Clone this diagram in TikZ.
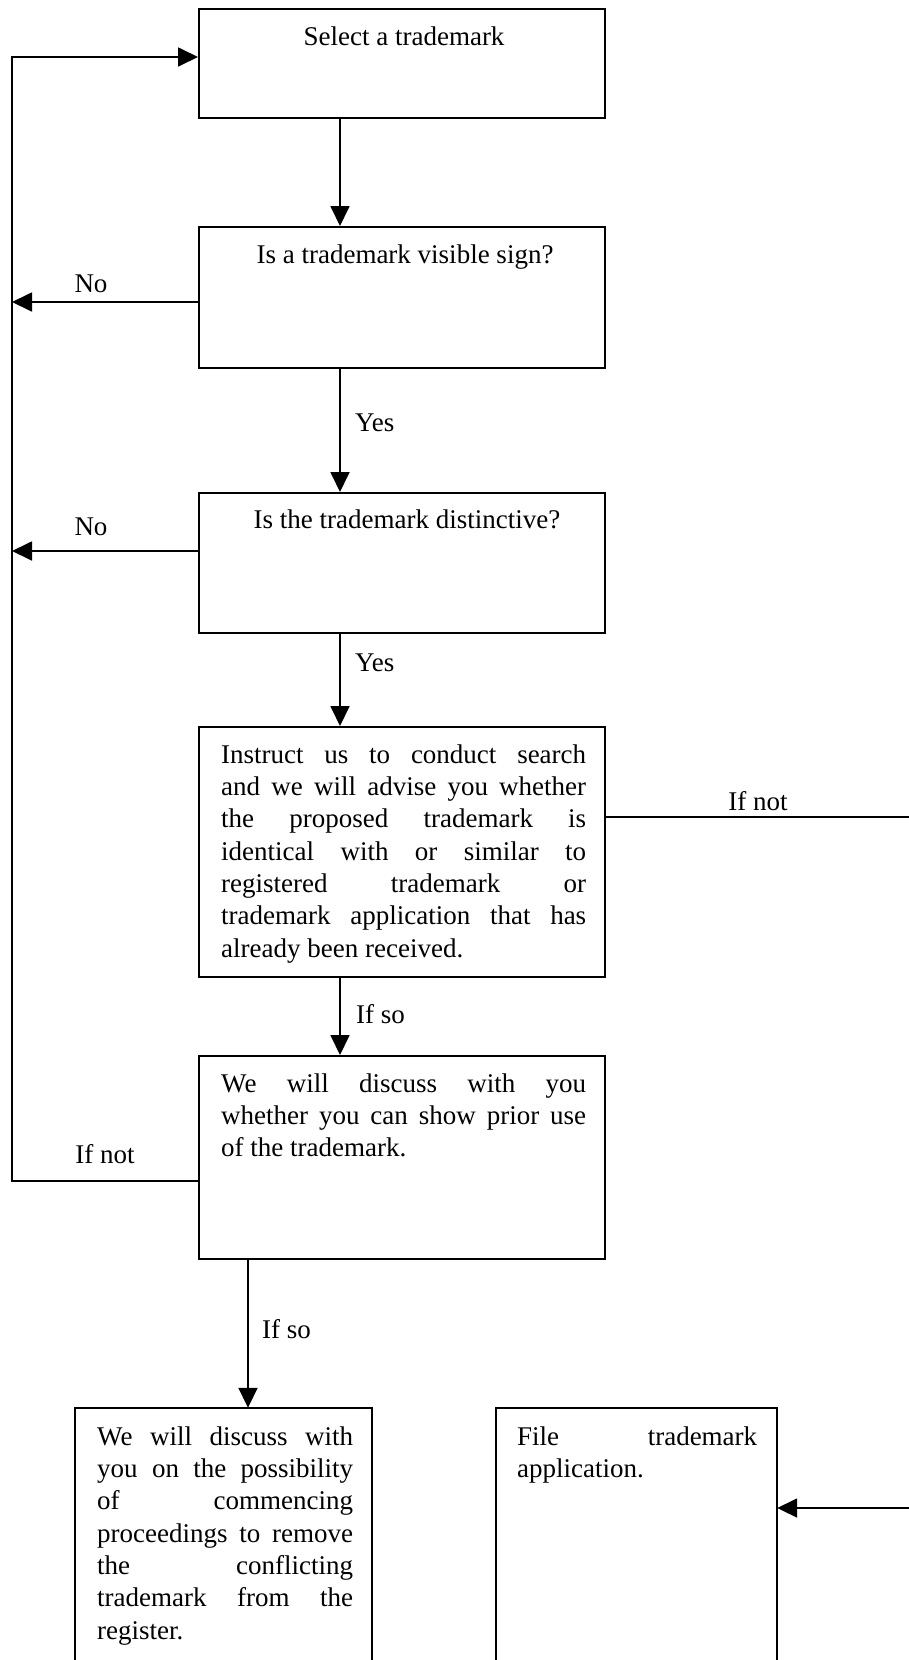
\documentclass[tikz,border=0pt]{standalone}
\usepackage{fontspec}
\setmainfont{Liberation Serif}
\usetikzlibrary{arrows.meta}
\newcommand{\firstln}{\rule{0pt}{20pt}}
\hbadness=10000
\begin{document}
\begin{tikzpicture}[x=1pt,y=-1pt,
  boxstyle/.style={draw=none, inner sep=0pt},
  boxline/.style={line width=2pt},
  conn/.style={line width=1.8pt},
  arr/.style={conn, -{Triangle[length=20pt,width=19pt]}},
  txt/.style={font=\fontsize{27}{32.3}\selectfont, inner sep=0pt},
  body/.style={txt, anchor=north west, align=justify, text width=#1}]
\useasboundingbox[fill=white] (0,0) rectangle (909,1660);

% boxes
\node[boxstyle, draw, boxline, minimum width=406pt, minimum height=109pt] (b1) at (402,63.5) {};
\node[boxstyle, draw, boxline, minimum width=406pt, minimum height=141pt] (b2) at (402,297.5) {};
\node[boxstyle, draw, boxline, minimum width=406pt, minimum height=140pt] (b3) at (402,563) {};
\node[boxstyle, draw, boxline, minimum width=406pt, minimum height=250pt] (b4) at (402,852) {};
\node[boxstyle, draw, boxline, minimum width=406pt, minimum height=203pt] (b5) at (402,1157.5) {};
\node[boxstyle, minimum width=297pt, minimum height=252pt] (b6) at (223.5,1534) {};
\node[boxstyle, minimum width=281pt, minimum height=252pt] (b7) at (636.5,1534) {};
\draw[boxline] (b6.south west) -- (b6.north west) -- (b6.north east) -- (b6.south east);
\draw[boxline] (b7.south west) -- (b7.north west) -- (b7.north east) -- (b7.south east);

% box texts
\node[txt, anchor=base] (t1) at (404,45) {Select a trademark};
\node[txt, anchor=base] (t2) at (405,263) {Is a trademark visible sign?};
\node[txt, anchor=base] (t3) at (407,528) {Is the trademark distinctive?};
\node[body=365pt] (t4) at (221,743) {\firstln Instruct us to conduct search\linebreak
and we will advise you whether\linebreak
the proposed trademark is\linebreak
identical with or similar to\linebreak
registered trademark or\linebreak
trademark application that has\linebreak
already been received.};
\node[body=365pt] (t5) at (221,1072) {\firstln We will discuss with you\linebreak
whether you can show prior use\linebreak
of the trademark.};
\node[body=256pt] (t6) at (97,1425) {\firstln We will discuss with\linebreak
you on the possibility\linebreak
of commencing\linebreak
proceedings to remove\linebreak
the conflicting\linebreak
trademark from the\linebreak
register.};
\node[body=240pt] (t7) at (517,1425) {\firstln File trademark\linebreak
application.};

% coordinates
\coordinate (cx) at (340,0);
\coordinate (cx2) at (248,0);
\coordinate (N1) at (12,302);
\coordinate (N2) at (12,551);
\coordinate (LB) at (12,1181);
\coordinate (LT) at (12,57);
\coordinate (R1) at (909,817);
\coordinate (R2) at (909,1508);

% vertical arrows
\draw[arr] (b1.south -| cx) -- (b2.north -| cx);
\draw[arr] (b2.south -| cx) -- (b3.north -| cx);
\draw[arr] (b3.south -| cx) -- (b4.north -| cx);
\draw[arr] (b4.south -| cx) -- (b5.north -| cx);
\draw[arr] (b5.south -| cx2) -- (b6.north -| cx2);

% left connectors
\draw[arr] (b2.west |- N1) -- (N1);
\draw[arr] (b3.west |- N2) -- (N2);
\draw[arr] (b5.west |- LB) -- (LB) -- (LT) -- (b1.west |- LT);

% right connectors
\draw[conn] (b4.east |- R1) -- (R1);
\draw[arr] (R2) -- (b7.east |- R2);

% labels
\node[txt, anchor=base] (l1) at (91,292) {No};
\node[txt, anchor=base] (l2) at (91,535) {No};
\node[txt, anchor=base west] (l3) at (355,431) {Yes};
\node[txt, anchor=base west] (l4) at (355,671) {Yes};
\node[txt, anchor=base west] (l5) at (356,1023) {If so};
\node[txt, anchor=base] (l6) at (758,810) {If not};
\node[txt, anchor=base] (l7) at (105,1163) {If not};
\node[txt, anchor=base west] (l8) at (262,1338) {If so};
\end{tikzpicture}
\end{document}
